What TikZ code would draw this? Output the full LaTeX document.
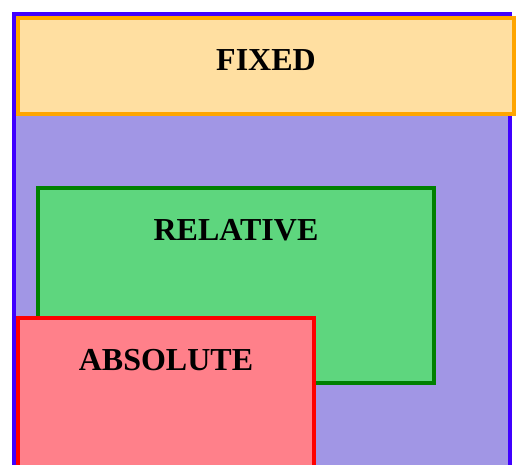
\documentclass[tikz,border=0pt]{standalone}
\usepackage{fontspec}
\setmainfont{Liberation Serif}
\definecolor{pageblue}{RGB}{64,0,255}
\definecolor{pagefill}{RGB}{161,150,229}
\definecolor{fixedline}{RGB}{255,165,0}
\definecolor{fixedfill}{RGB}{255,223,161}
\definecolor{relline}{RGB}{0,128,0}
\definecolor{relfill}{RGB}{94,214,126}
\definecolor{absline}{RGB}{255,0,0}
\definecolor{absfill}{RGB}{255,128,138}
\begin{document}
\begin{tikzpicture}[x=1pt,y=-1pt,
		box/.style={rectangle, line width=4pt, inner sep=0pt, outer sep=0pt, anchor=north west},
		title/.style={anchor=base, font=\bfseries\fontsize{32}{38}\selectfont}]
		\clip (0,0) rectangle (528,464);
		\fill[white] (0,0) rectangle (528,464);

		\node[box, draw=pageblue, fill=pagefill, minimum width=496pt, minimum height=480pt] (page) at (14,14) {};

		\node[box, draw=fixedline, fill=fixedfill, minimum width=496pt, minimum height=96pt] (fixed) at (18,18) {};
		\node[title] (fixedtext) at ([yshift=-52pt]fixed.north) {FIXED};

		\node[box, draw=relline, fill=relfill, minimum width=396pt, minimum height=195pt] (relative) at (38,188) {};
		\node[title] (relativetext) at ([yshift=-52pt]relative.north) {RELATIVE};

		\node[box, draw=absline, fill=absfill, minimum width=296pt, minimum height=200pt] (absolute) at (18,318) {};
		\node[title] (absolutetext) at ([yshift=-52pt]absolute.north) {ABSOLUTE};
	\end{tikzpicture}
\end{document}
